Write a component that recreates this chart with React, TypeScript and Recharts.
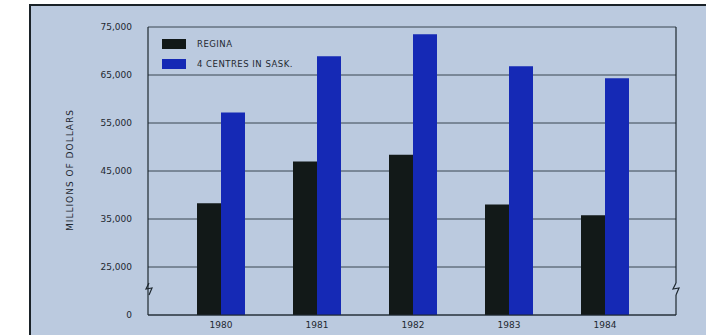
import React from "react";
import {
  BarChart,
  Bar,
  XAxis,
  YAxis,
  CartesianGrid,
  Customized,
} from "recharts";

// values (millions of dollars)
const YEARS = ["1980", "1981", "1982", "1983", "1984"];
const REGINA = [38300, 47000, 48400, 38000, 35800];
const CENTRES = [57200, 68900, 73500, 66800, 64300];
const Y_TICKS = [15000, 25000, 35000, 45000, 55000, 65000, 75000];

const SERIES = [
  { key: "regina", label: "REGINA", color: "#121918" },
  { key: "centres", label: "4 CENTRES IN SASK.", color: "#1529b5" },
];

const data = YEARS.map((year, i) => ({
  year,
  regina: REGINA[i],
  centres: CENTRES[i],
}));

const BG = "#bbcadf";
const INK = "#1e2830";
const FONT = "'DejaVu Sans', sans-serif";

// the bottom tick is really the axis break, printed as 0
const fmtTick = (v: number) => (v === Y_TICKS[0] ? "0" : v.toLocaleString("en-US"));

function LegendBox() {
  return (
    <div style={{ fontFamily: FONT, fontSize: 8.5, color: INK, letterSpacing: 0.5 }}>
      {SERIES.map((s) => (
        <div key={s.key} style={{ display: "flex", alignItems: "center", height: 20 }}>
          <span style={{ width: 24, height: 10, background: s.color, marginRight: 11 }} />
          <span>{s.label}</span>
        </div>
      ))}
    </div>
  );
}

// little zigzag marks where the value axis is broken, plus the right edge of the frame
function AxisBreaks() {
  const zig = (x: number) => `M${x},283 L${x - 3},289 L${x + 3},288 L${x},295`;
  return (
    <g>
      <line x1={676} y1={27} x2={676} y2={315} stroke={INK} strokeWidth={1.2} />
      <rect x={145} y={283} width={8} height={12} fill={BG} />
      <rect x={673} y={283} width={8} height={12} fill={BG} />
      <path d={zig(149)} stroke={INK} strokeWidth={1.2} fill="none" />
      <path d={zig(676)} stroke={INK} strokeWidth={1.2} fill="none" />
    </g>
  );
}

export default function App() {
  return (
    <div style={{ position: "absolute", left: 0, top: 0, width: 706, height: 335, background: "#fff", overflow: "hidden" }}>
      <div
        style={{
          position: "absolute",
          left: 29,
          top: 4,
          width: 690,
          height: 340,
          background: BG,
          borderLeft: "2px solid #1a2228",
          borderTop: "2px solid #1a2228",
        }}
      />
      <div
        style={{
          position: "absolute",
          left: 70,
          top: 170,
          transform: "translate(-50%, -50%) rotate(-90deg)",
          fontFamily: FONT,
          fontSize: 9,
          letterSpacing: 1,
          color: INK,
          whiteSpace: "nowrap",
        }}
      >
        MILLIONS OF DOLLARS
      </div>
      <div style={{ position: "absolute", left: 0, top: 0 }}>
        <BarChart
          width={706}
          height={335}
          data={data}
          margin={{ top: 27, right: 30, bottom: 0, left: 88 }}
          barCategoryGap="25%"
          barGap={0}
        >
          <CartesianGrid vertical={false} stroke="#2a3642" strokeWidth={0.9} />
          <XAxis
            dataKey="year"
            height={20}
            padding={{ left: 25, right: 23 }}
            tickLine={false}
            axisLine={{ stroke: INK, strokeWidth: 1.2 }}
            tick={{ fill: INK, fontSize: 9, fontFamily: FONT }}
            tickMargin={1}
          />
          <YAxis
            width={60}
            domain={[Y_TICKS[0], Y_TICKS[Y_TICKS.length - 1]]}
            ticks={Y_TICKS}
            interval={0}
            tickFormatter={fmtTick}
            tickLine={false}
            axisLine={{ stroke: INK, strokeWidth: 1.2 }}
            tick={{ fill: INK, fontSize: 9, fontFamily: FONT }}
            tickMargin={10}
          />
          {SERIES.map((s) => (
            <Bar key={s.key} dataKey={s.key} name={s.label} fill={s.color} isAnimationActive={false} />
          ))}
          <Customized component={<AxisBreaks />} />
        </BarChart>
      </div>
      <div style={{ position: "absolute", left: 162, top: 34 }}>
        <LegendBox />
      </div>
    </div>
  );
}
